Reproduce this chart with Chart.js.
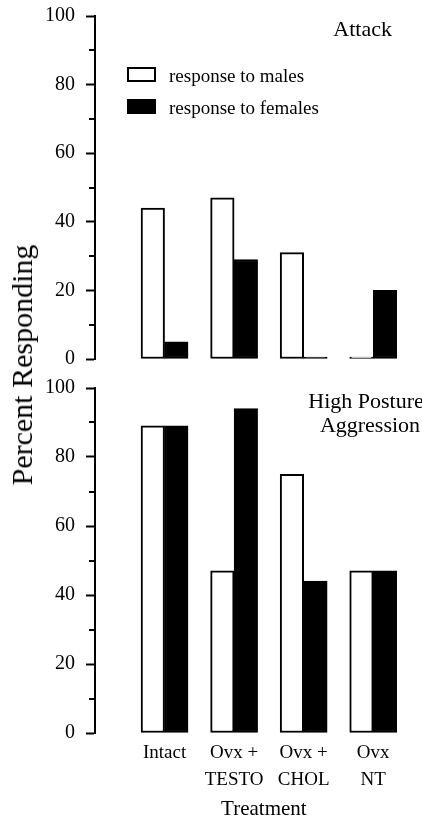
<!DOCTYPE html>
<html>
<head>
<meta charset="utf-8">
<script src="https://cdn.jsdelivr.net/npm/chart.js@4/dist/chart.umd.min.js"></script>
<style>
	body { margin: 0; background: #fff; }
	#wrap { position: relative; width: 422px; height: 823px; }
	canvas { position: absolute; left: 0; }
	#topChart { top: 0; }
	#bottomChart { top: 372px; }
	#yTitle {
		position: absolute;
		left: 22px;
		top: 365px;
		transform: translate(-50%, -50%) rotate(-90deg);
		font: 30px "Liberation Serif", "Times New Roman", serif;
		white-space: nowrap;
		color: #000;
	}
</style>
</head>
<body>
<div id="wrap">
	<canvas id="topChart" width="422" height="375"></canvas>
	<canvas id="bottomChart" width="422" height="451"></canvas>
	<div id="yTitle">Percent Responding</div>
</div>
<script>
// данные
const treatments = [["Intact"], ["Ovx +", "TESTO"], ["Ovx +", "CHOL"], ["Ovx", "NT"]];
const seriesNames = ["response to males", "response to females"];
const attackMales = [44, 47, 31, 0];
const attackFemales = [5, 29, 0, 20];
const postureMales = [89, 47, 75, 47];
const postureFemales = [89, 94, 44, 47];
const yTicks = [0, 20, 40, 60, 80, 100];

const serif = '"Liberation Serif", "Times New Roman", serif';
Chart.defaults.font.family = serif;
Chart.defaults.color = "#000";

function points(values) {
	return values.map((v, i) => ({ x: i + 1, y: v }));
}

function makeDatasets(males, females) {
	const common = {
		borderColor: "#000",
		borderWidth: 2,
		borderSkipped: false,
		barThickness: 23.5,
		minBarLength: 2,
	};
	return [
		{ ...common, label: seriesNames[0], data: points(males), backgroundColor: "#fff" },
		{ ...common, label: seriesNames[1], data: points(females), backgroundColor: "#000" },
	];
}

function yScale() {
	return {
		min: 0,
		max: 100,
		ticks: {
			stepSize: 10,
			padding: 11,
			font: { size: 20, lineHeight: 0.4 },
			callback: (v) => (yTicks.includes(v) ? v : ""),
		},
		grid: {
			drawOnChartArea: false,
			tickLength: 9,
			tickWidth: 2,
			tickColor: (ctx) => (yTicks.includes(ctx.tick.value) ? "#000" : "transparent"),
		},
		border: { color: "#000", width: 2 },
		afterFit(axis) {
			axis.width = 95;
		},
	};
}

// мелкие засечки между подписями
const minorTicks = {
	id: "minorTicks",
	afterDraw(chart) {
		const y = chart.scales.y;
		const ctx = chart.ctx;
		ctx.save();
		ctx.strokeStyle = "#000";
		ctx.lineWidth = 2;
		for (let v = 10; v < 100; v += 20) {
			const py = Math.round(y.getPixelForValue(v));
			ctx.beginPath();
			ctx.moveTo(y.right - 6, py);
			ctx.lineTo(y.right, py);
			ctx.stroke();
		}
		ctx.restore();
	},
};

// подписи внутри панели
const panelText = {
	id: "panelText",
	afterDraw(chart, args, opts) {
		const ctx = chart.ctx;
		ctx.save();
		ctx.fillStyle = "#000";
		ctx.textBaseline = "alphabetic";
		(opts.lines || []).forEach((l) => {
			ctx.font = l.size + "px " + serif;
			ctx.textAlign = l.align;
			ctx.fillText(l.text, l.x, l.y);
		});
		if (opts.legend) {
			chart.data.datasets.forEach((ds, i) => {
				const top = 67 + i * 32;
				ctx.fillStyle = ds.backgroundColor;
				ctx.fillRect(127, top, 29, 15);
				ctx.strokeStyle = "#000";
				ctx.lineWidth = 2;
				ctx.strokeRect(128, top + 1, 27, 13);
				ctx.fillStyle = "#000";
				ctx.font = "19px " + serif;
				ctx.textAlign = "left";
				ctx.fillText(ds.label, 169, top + 15);
			});
		}
		if (opts.xTitle) {
			const x = chart.scales.x;
			const cx = (x.getPixelForValue(1) + x.getPixelForValue(4)) / 2 - 5;
			ctx.font = "21px " + serif;
			ctx.textAlign = "center";
			ctx.fillText(opts.xTitle, cx, 443);
		}
		ctx.restore();
	},
};

const xBase = {
	type: "linear",
	min: 0,
	max: 4.5,
	offset: false,
	grid: { display: false, drawTicks: false, offset: false },
	border: { display: false },
	afterBuildTicks(axis) {
		axis.ticks = treatments.map((t, i) => ({ value: i + 1 }));
	},
};

const topChart = new Chart(document.getElementById("topChart"), {
	type: "bar",
	data: { datasets: makeDatasets(attackMales, attackFemales) },
	options: {
		responsive: false,
		animation: false,
		devicePixelRatio: 1,
		layout: { padding: { top: 16, bottom: 16, left: 0, right: 14 } },
		plugins: {
			legend: { display: false },
			tooltip: { enabled: false },
			panelText: {
				legend: true,
				lines: [{ text: "Attack", x: 392, y: 36, size: 22, align: "right" }],
			},
		},
		scales: {
			x: { ...xBase, display: false },
			y: yScale(),
		},
	},
	plugins: [minorTicks, panelText],
});

const bottomChart = new Chart(document.getElementById("bottomChart"), {
	type: "bar",
	data: { datasets: makeDatasets(postureMales, postureFemales) },
	options: {
		responsive: false,
		animation: false,
		devicePixelRatio: 1,
		layout: { padding: { top: 16, bottom: 0, left: 0, right: 14 } },
		plugins: {
			legend: { display: false },
			tooltip: { enabled: false },
			panelText: {
				xTitle: "Treatment",
				lines: [
					{ text: "High Posture", x: 366, y: 36, size: 22, align: "center" },
					{ text: "Aggression", x: 370, y: 60, size: 22, align: "center" },
				],
			},
		},
		scales: {
			x: {
				...xBase,
				ticks: {
					maxRotation: 0,
					autoSkip: false,
					padding: 6,
					font: { size: 19, lineHeight: 1.45 },
					callback: (v) => (Number.isInteger(v) && v >= 1 && v <= treatments.length ? treatments[v - 1] : ""),
				},
				afterFit(axis) {
					axis.height = 90;
				},
			},
			y: yScale(),
		},
	},
	plugins: [minorTicks, panelText],
});
</script>
</body>
</html>
